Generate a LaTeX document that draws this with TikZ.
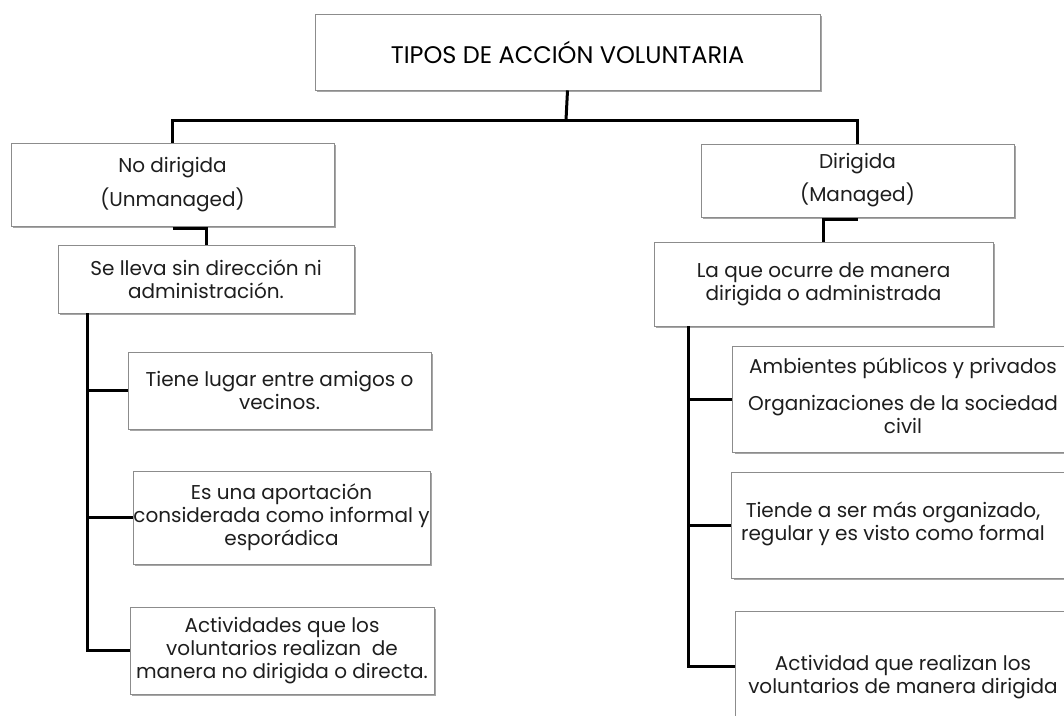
\documentclass[tikz,border=0pt]{standalone}
\usepackage{fontspec}
\setmainfont{Poppins}
\usetikzlibrary{shadows}
\definecolor{boxline}{HTML}{8C8C8C}
\definecolor{txt}{HTML}{1E1E1E}
\tikzset{
  box/.style={draw=boxline, line width=0.9pt, fill=white, align=center, inner sep=0pt,
    text=txt, font=\fontsize{20}{23}\selectfont,
    drop shadow={shadow xshift=2.2pt, shadow yshift=-2.2pt, fill=black, opacity=0.35}},
  lbl/.style={align=center, inner sep=0pt, text=txt, font=\fontsize{20}{23}\selectfont},
  conn/.style={line width=3pt, draw=black}
}
\begin{document}
\begin{tikzpicture}[x=1pt,y=-1pt]
\useasboundingbox (0,0) rectangle (1064,715);
\clip (0,0) rectangle (1064,715);
\fill[white] (0,0) rectangle (1064,715);
\coordinate (bus) at (566,120);
% nodes
\node[box, minimum width=505, minimum height=76, font=\fontsize{24}{28}\selectfont, text=black] (title) at (567.5,52) {TIPOS DE ACCIÓN VOLUNTARIA};
\node[box, minimum width=323, minimum height=83, font=\fontsize{20}{34}\selectfont] (nodir) at (172.5,184.5) {No dirigida\\(Unmanaged)};
\node[box, minimum width=296, minimum height=68] (selleva) at (206,279) {Se lleva sin dirección ni\\administración.};
\node[box, minimum width=303, minimum height=77] (c1) at (279.5,390.5) {Tiene lugar entre amigos o\\vecinos.};
\node[box, minimum width=297, minimum height=93] (c2) at (281.5,517.5) {Es una aportación\\considerada como informal y\\esporádica};
\node[box, minimum width=304, minimum height=87] (c3) at (282,650.5) {Actividades que los\\voluntarios realizan\ \ de\\manera no dirigida o directa.};
\node[box, minimum width=313, minimum height=73, font=\fontsize{20}{33}\selectfont] (dir) at (857.5,180.5) {Dirigida\\(Managed)};
\node[box, minimum width=339, minimum height=84] (laque) at (823.5,284) {La que ocurre de manera\\dirigida o administrada};
\node[box, anchor=west, minimum width=420, minimum height=106] (r1) at (732,399) {};
\node[box, anchor=west, minimum width=420, minimum height=106] (r2) at (731,525) {};
\node[box, anchor=west, minimum width=420, minimum height=110] (r3) at (735,666) {};
\node[lbl] (r1t) at (903,396) {Ambientes públicos y privados\\[14pt]Organizaciones de la sociedad\\civil};
\node[lbl] (r2t) at (893,524) {Tiende a ser más organizado,\\regular y es visto como formal};
\node[lbl] (r3t) at (903,677) {Actividad que realizan los\\voluntarios de manera dirigida};
% connectors
\draw[conn] (title.south) -- (bus);
\draw[conn] (nodir.north) |- (bus) -| (dir.north);
\draw[conn] ([yshift=-2pt]nodir.south) -| (selleva.north);
\draw[conn] ([yshift=-2pt]dir.south) -| (laque.north);
\coordinate (lt) at ([xshift=30pt]selleva.south west);
\draw[conn] (lt) |- (c3.west);
\draw[conn] (lt |- c1.west) -- (c1.west);
\draw[conn] (lt |- c2.west) -- (c2.west);
\coordinate (rt) at ([xshift=35pt]laque.south west);
\draw[conn] (rt) |- (r3.west);
\draw[conn] (rt |- r1.west) -- (r1.west);
\draw[conn] (rt |- r2.west) -- (r2.west);
\end{tikzpicture}
\end{document}
